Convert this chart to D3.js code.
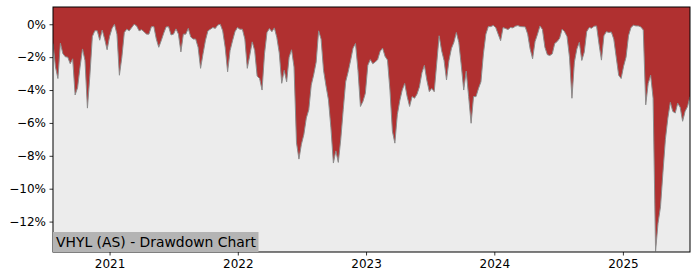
<!DOCTYPE html>
<html>
<head>
<meta charset="utf-8">
<script src="https://cdn.jsdelivr.net/npm/d3@7"></script>
<style>
  body { margin: 0; background: #ffffff; }
  svg text { font-family: "DejaVu Sans", sans-serif; }
</style>
</head>
<body>
<div id="chart"></div>
<script>
'use strict';

// weekly drawdown readings (percent), first one on startDate
var startDate = "2020-07-24";
var drawdown = [
    -1.17, -2.59, -3.3, -1.15, -1.78, -1.98, -2.0, -2.4, -2.1, -4.3,
    -3.85, -2.6, -1.5, -2.2, -5.1, -3.1, -0.75, -0.4, -0.4, -0.97,
    -0.35, -0.9, -1.55, -0.75, -0.25, 0, -0.6, -3.1, -2.0, -0.5,
    -0.3, -0.4, -0.2, 0, -0.1, -0.4, -0.33, -0.45, -0.6, -0.6,
    -0.15, -0.14, -0.9, -1.4, -1.0, -0.55, -0.16, -0.15, -0.65, -0.6,
    -0.28, -0.6, -1.68, -0.6, -0.6, -0.25, -0.77, -0.9, -0.9, -1.4,
    -2.68, -1.8, -0.97, -0.4, -0.3, -0.2, -0.25, -0.05, 0, -0.4,
    -1.4, -2.89, -1.6, -1.0, -0.45, -0.2, -0.3, -0.3, -0.9, -2.68,
    -1.9, -1.07, -1.6, -3.15, -3.3, -4.0, -1.8, -0.5, -0.26, -0.45,
    -0.22, -0.8, -1.75, -3.59, -2.8, -3.5, -2.0, -1.55, -2.6, -7.2,
    -8.2, -7.3, -6.7, -5.7, -5.2, -3.7, -3.07, -2.3, -0.4, -0.9,
    -2.8, -3.75, -4.6, -6.3, -8.44, -7.7, -8.4, -7.0, -5.2, -3.5,
    -2.9, -2.2, -1.45, -1.17, -2.8, -5.0, -4.7, -4.2, -2.5, -2.15,
    -2.4, -2.3, -2.15, -1.65, -1.45, -1.95, -2.18, -4.0, -6.5, -7.23,
    -5.5, -4.65, -4.0, -3.6, -4.4, -5.0, -4.4, -4.5, -4.25, -3.8,
    -2.95, -2.5, -3.4, -4.1, -3.9, -4.1, -2.4, -0.7, -1.6, -2.2,
    -3.39, -2.2, -1.47, -1.1, -0.5, -1.1, -2.5, -4.0, -2.85, -4.4,
    -6.02, -4.4, -4.4, -3.9, -3.5, -1.8, -0.6, -0.14, -0.14, -0.07,
    -0.2, -0.6, -1.0, -0.2, -0.26, -0.32, -0.2, -0.22, -0.12, -0.08,
    -0.14, -0.15, -0.16, -0.6, -1.5, -2.1, -1.05, -0.6, -0.1, -0.32,
    -1.4, -1.85, -1.9, -1.8, -1.17, -1.05, -0.85, -0.3, -0.45, -0.75,
    -2.0, -4.5, -2.3, -1.5, -1.1, -2.2, -1.7, -0.45, -0.2, -0.24,
    -0.12, -0.1, -1.2, -2.18, -0.7, -0.45, -0.5, -0.47, -0.9, -2.0,
    -3.1, -3.3, -2.55, -2.0, -0.7, -0.2, -0.06, -0.1, -0.1, -0.16,
    -0.35, -4.9, -3.6, -3.1, -4.5, -13.8, -12.1, -11.1, -9.0, -7.0,
    -5.7, -4.75, -5.3, -5.4, -4.8, -5.05, -5.9, -5.3, -5.0, -4.4
];
var yTicks = [0, -2, -4, -6, -8, -10, -12];
var xTickYears = [2021, 2022, 2023, 2024, 2025];
var yLimits = [-13.85, 1.05];
var title = "VHYL (AS) - Drawdown Chart";

var width = 700, height = 280,
    margin = {top: 7, right: 10, bottom: 28, left: 53},
    plotW = width - margin.left - margin.right,
    plotH = height - margin.top - margin.bottom;

var start = d3.timeParse("%Y-%m-%d")(startDate);
var data = drawdown.map(function(v, i) {
    return {date: d3.timeDay.offset(start, 7 * i), value: v};
});

var x = d3.scaleTime()
    .domain(d3.extent(data, function(d) { return d.date; }))
    .range([0, plotW]);
var y = d3.scaleLinear().domain(yLimits).range([plotH, 0]);

var svg = d3.select("#chart").append("svg")
    .attr("width", width)
    .attr("height", height);

svg.append("defs").append("clipPath").attr("id", "clip")
    .append("rect").attr("width", plotW).attr("height", plotH);

var g = svg.append("g").attr("transform", "translate(" + margin.left + "," + margin.top + ")");

// grey below the line, red between the line and the top
g.append("rect").attr("width", plotW).attr("height", plotH).attr("fill", "#ececec");

var plot = g.append("g").attr("clip-path", "url(#clip)");

plot.append("path")
    .datum(data)
    .attr("fill", "#b03030")
    .attr("d", d3.area()
        .x(function(d) { return x(d.date); })
        .y0(0)
        .y1(function(d) { return y(d.value); }));

plot.append("path")
    .datum(data)
    .attr("fill", "none")
    .attr("stroke", "#8c8c8c")
    .attr("stroke-width", 1)
    .attr("d", d3.line()
        .x(function(d) { return x(d.date); })
        .y(function(d) { return y(d.value); }));

// axes
var fmt = function(d) { return (d < 0 ? "\u2212" : "") + Math.abs(d) + "%"; };

var yAxis = g.append("g")
    .call(d3.axisLeft(y).tickValues(yTicks).tickFormat(fmt).tickSize(3.5).tickPadding(3.5));

var xAxis = g.append("g")
    .attr("transform", "translate(0," + plotH + ")")
    .call(d3.axisBottom(x)
        .tickValues(xTickYears.map(function(yr) { return new Date(yr, 0, 1); }))
        .tickFormat(d3.timeFormat("%Y"))
        .tickSize(3.5).tickPadding(3.5));

[yAxis, xAxis].forEach(function(a) {
    a.select(".domain").remove();
    a.selectAll("text").attr("font-size", "12px").attr("fill", "#000");
    a.selectAll("line").attr("stroke", "#000").attr("stroke-width", 0.8);
});

// frame
g.append("rect")
    .attr("width", plotW).attr("height", plotH)
    .attr("fill", "none").attr("stroke", "#000").attr("stroke-width", 1);

// title box in the lower left corner
var label = g.append("g");
var labelText = label.append("text")
    .attr("x", 3)
    .attr("y", plotH - 5)
    .attr("font-size", "13.9px")
    .attr("fill", "#000")
    .text(title);
var bb = labelText.node().getBBox();
label.insert("rect", "text")
    .attr("x", 0)
    .attr("y", plotH - 20)
    .attr("width", bb.width + 5)
    .attr("height", 20)
    .attr("fill", "#b4b4b4");
</script>
</body>
</html>
